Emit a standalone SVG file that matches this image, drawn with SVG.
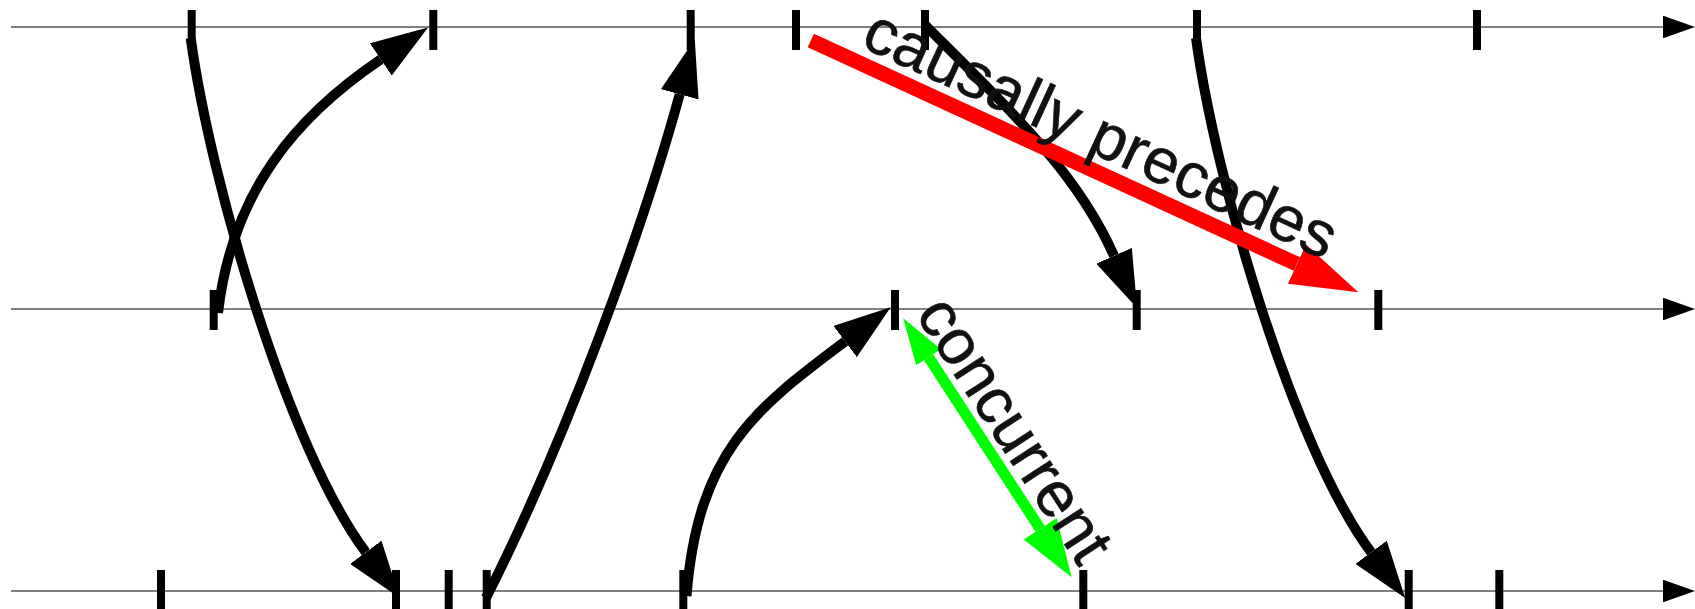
<svg xmlns="http://www.w3.org/2000/svg" width="1695" height="609" viewBox="0 0 1695 609">
  <defs>
    <style>
      .axis { stroke:#000; stroke-width:1; fill:none; marker-end:url(#axisHead); }
      .tick { stroke:#000; stroke-width:8; }
      .msg { stroke:#000; stroke-width:10; fill:none; marker-end:url(#blackHead); }
      .causal { stroke:#ff0000; stroke-width:15; fill:none; marker-end:url(#redHead); }
      .conc { stroke:#00ff00; stroke-width:11; fill:none; marker-start:url(#greenHeadStart); marker-end:url(#greenHeadEnd); }
      .label { font-family:"Liberation Sans", Arial, Helvetica, sans-serif; font-size:64px; fill:#111; stroke:#111; stroke-width:0.6; }
    </style>
    <marker id="axisHead" markerUnits="userSpaceOnUse" markerWidth="32" markerHeight="22.6" refX="0" refY="11.3" orient="auto">
      <path d="M0,0 L32,11.3 L0,22.6 z" fill="#000"/>
    </marker>
    <marker id="blackHead" markerUnits="userSpaceOnUse" markerWidth="57" markerHeight="39" refX="0" refY="19.5" orient="auto">
      <path d="M0,0 L57,19.5 L0,39 z" fill="#000"/>
    </marker>
    <marker id="redHead" markerUnits="userSpaceOnUse" markerWidth="67.6" markerHeight="43.3" refX="0" refY="21.65" orient="auto">
      <path d="M0,0 L67.6,21.65 L0,43.3 z" fill="#ff0000"/>
    </marker>
    <marker id="greenHeadStart" markerUnits="userSpaceOnUse" markerWidth="46.5" markerHeight="29.7" refX="0" refY="14.85" orient="auto-start-reverse">
      <path d="M0,0 L46.5,14.85 L0,29.7 z" fill="#00ff00"/>
    </marker>
    <marker id="greenHeadEnd" markerUnits="userSpaceOnUse" markerWidth="57.9" markerHeight="39.4" refX="0" refY="19.7" orient="auto">
      <path d="M0,0 L57.9,19.7 L0,39.4 z" fill="#00ff00"/>
    </marker>
  </defs>

  <rect width="1695" height="609" fill="#fff"/>

  <g id="process-1">
    <line class="axis" x1="11" y1="27" x2="1663" y2="27"/>
    <g id="p1-e1"><line class="tick" x1="191.7" y1="10" x2="191.7" y2="50"/></g>
    <g id="p1-e2"><line class="tick" x1="433.3" y1="10" x2="433.3" y2="50"/></g>
    <g id="p1-e3"><line class="tick" x1="690.7" y1="10" x2="690.7" y2="50"/></g>
    <g id="p1-e4"><line class="tick" x1="796" y1="10" x2="796" y2="50"/></g>
    <g id="p1-e5"><line class="tick" x1="925" y1="10" x2="925" y2="50"/></g>
    <g id="p1-e6"><line class="tick" x1="1197" y1="10" x2="1197" y2="50"/></g>
    <g id="p1-e7"><line class="tick" x1="1477" y1="10" x2="1477" y2="50"/></g>
  </g>

  <g id="process-2">
    <line class="axis" x1="11" y1="309" x2="1663" y2="309"/>
    <g id="p2-e1"><line class="tick" x1="213.7" y1="290" x2="213.7" y2="330"/></g>
    <g id="p2-e2"><line class="tick" x1="895" y1="290" x2="895" y2="330"/></g>
    <g id="p2-e3"><line class="tick" x1="1136.7" y1="290" x2="1136.7" y2="330"/></g>
    <g id="p2-e4"><line class="tick" x1="1378.3" y1="290" x2="1378.3" y2="330"/></g>
  </g>

  <g id="process-3">
    <line class="axis" x1="11" y1="591" x2="1663" y2="591"/>
    <g id="p3-e1"><line class="tick" x1="161" y1="570" x2="161" y2="610"/></g>
    <g id="p3-e2"><line class="tick" x1="396" y1="570" x2="396" y2="610"/></g>
    <g id="p3-e3"><line class="tick" x1="448.7" y1="570" x2="448.7" y2="610"/></g>
    <g id="p3-e4"><line class="tick" x1="486.7" y1="570" x2="486.7" y2="610"/></g>
    <g id="p3-e5"><line class="tick" x1="683.3" y1="570" x2="683.3" y2="610"/></g>
    <g id="p3-e6"><line class="tick" x1="1083.3" y1="570" x2="1083.3" y2="610"/></g>
    <g id="p3-e7"><line class="tick" x1="1408.7" y1="570" x2="1408.7" y2="610"/></g>
    <g id="p3-e8"><line class="tick" x1="1499.3" y1="570" x2="1499.3" y2="610"/></g>
  </g>

  <g id="connectors">
    <path class="msg" d="M190.7,38 C210,180 288,448 365.8,552.3"/>
    <path class="msg" d="M218,313 C232,190 298,115.3 380.8,59.4"/>
    <path class="msg" d="M486,598 C566,440 642.7,229.4 679.7,94.3"/>
    <path class="msg" d="M925,25 C1015,115 1077.6,173.45 1114,255.8"/>
    <path class="msg" d="M1196,38 C1215.3,180 1293.3,448 1371.1,552.3"/>
    <path class="msg" d="M686.5,596 C698,450 757.1,407.5 845.1,341.5"/>
    <path class="causal" d="M810.8,40.5 L1296.9,264.05"/>
    <path class="conc" d="M928.6,357.3 L1040.1,528.8"/>
    <text class="label" text-anchor="middle" transform="translate(1092,153) rotate(24.7)">causally precedes</text>
    <text class="label" text-anchor="middle" transform="translate(997,441) rotate(57)">concurrent</text>
  </g>
</svg>
